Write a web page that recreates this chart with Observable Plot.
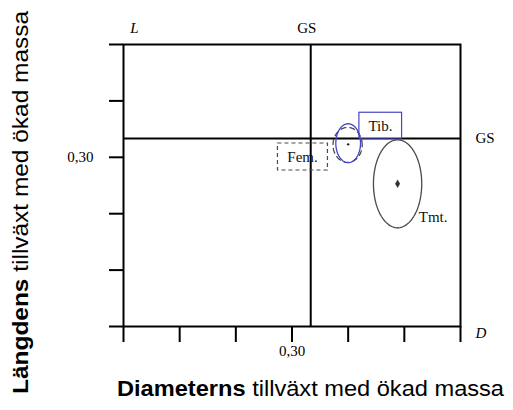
<!DOCTYPE html>
<html>
<head>
<meta charset="utf-8">
<script src="https://cdn.jsdelivr.net/npm/d3@7"></script>
<script src="https://cdn.jsdelivr.net/npm/@observablehq/plot@0.6"></script>
<style>
  body { margin: 0; background: #fff; }
</style>
</head>
<body>
<div id="chart"></div>
<script>
// Allometric exponents of limb bones: growth in diameter (x) and length (y) with body mass
const GS = 1 / 3; // geometric similarity
const xTicks = [0, 0.1, 0.2, 0.3, 0.4, 0.5, 0.6];
const yTicks = [0, 0.1, 0.2, 0.3, 0.4, 0.5];
const labeledTick = 0.3;
const labeledTickText = "0,30";

// Confidence ellipses per bone
const bones   = ["Tib.", "Fem.", "Tmt."];
const centerX = [0.400, 0.399, 0.488];
const centerY = [0.325, 0.322, 0.253];
const radiusX = [0.022, 0.026, 0.043];
const radiusY = [0.0345, 0.031, 0.078];

// Bone label positions
const labelX = [0.4575, 0.3187, 0.5257];
const labelY = [0.3555, 0.3005, 0.1933];

// Boxes around the Tib. and Fem. labels
const boxBones = ["Tib.", "Fem."];
const boxX1 = [0.420, 0.275];
const boxX2 = [0.496, 0.364];
const boxY1 = [GS, 0.2766];
const boxY2 = [0.379, 0.3245];

const xTitle = "Diameterns tillväxt med ökad massa";
const yTitle = "Längdens tillväxt med ökad massa";

const blue = "#4646c4";
const grey = "#4a4a4a";
const serif = "Liberation Serif, Times New Roman, serif";
const sans = "Liberation Sans, Arial, sans-serif";

function ellipse(i) {
  return d3.range(0, 360, 4).map(a => {
    const t = a * Math.PI / 180;
    return {x: centerX[i] + radiusX[i] * Math.cos(t), y: centerY[i] + radiusY[i] * Math.sin(t)};
  });
}

const boxes = boxBones.map((b, i) => ({bone: b, x1: boxX1[i], x2: boxX2[i], y1: boxY1[i], y2: boxY2[i]}));
const labels = bones.map((b, i) => ({bone: b, x: labelX[i], y: labelY[i]}));

const svg = Plot.plot({
  width: 513,
  height: 410,
  marginLeft: 123,
  marginRight: 53,
  marginTop: 44,
  marginBottom: 84,
  x: {domain: [0, 0.6], label: null},
  y: {domain: [0, 0.5], label: null},
  style: {background: "#fff", color: "#000"},
  marks: [
    Plot.axisX(xTicks, {
      tickSize: 16, tickPadding: 3, strokeWidth: 2, label: null,
      tickFormat: d => Math.abs(d - labeledTick) < 1e-9 ? labeledTickText : "",
      fontFamily: serif, fontSize: 15
    }),
    Plot.axisY(yTicks, {
      tickSize: 14, tickPadding: 16, strokeWidth: 2, label: null,
      tickFormat: d => Math.abs(d - labeledTick) < 1e-9 ? labeledTickText : "",
      fontFamily: serif, fontSize: 15
    }),
    Plot.frame({stroke: "#000", strokeWidth: 2}),
    Plot.ruleX([GS], {stroke: "#000", strokeWidth: 2}),
    Plot.ruleY([GS], {stroke: "#000", strokeWidth: 2}),

    // label boxes
    Plot.rect(boxes.filter(d => d.bone === "Tib."), {x1: "x1", x2: "x2", y1: "y1", y2: "y2", fill: "#fff", stroke: blue, strokeWidth: 1.2}),
    Plot.rect(boxes.filter(d => d.bone === "Fem."), {x1: "x1", x2: "x2", y1: "y1", y2: "y2", fill: "none", stroke: grey, strokeWidth: 1.2, strokeDasharray: "4,3"}),

    // ellipses
    Plot.line(ellipse(1), {x: "x", y: "y", curve: "linear-closed", stroke: grey, strokeWidth: 1.3, strokeDasharray: "5,4"}),
    Plot.line(ellipse(0), {x: "x", y: "y", curve: "linear-closed", stroke: blue, strokeWidth: 1.3}),
    Plot.line(ellipse(2), {x: "x", y: "y", curve: "linear-closed", stroke: grey, strokeWidth: 1.3}),

    // centre marks
    Plot.dot([0], {x: () => centerX[0], y: () => centerY[0] - 0.002, r: 1.2, fill: "#222", stroke: "none"}),
    Plot.dot([0], {x: () => centerX[2], y: () => centerY[2], symbol: "diamond", r: 2.6, fill: "#333", stroke: "none"}),

    // bone labels
    Plot.text(labels.filter(d => d.bone !== "Tmt."), {x: "x", y: "y", text: "bone", fontFamily: serif, fontSize: 15, fill: "#111"}),
    Plot.text(labels.filter(d => d.bone === "Tmt."), {x: "x", y: "y", text: "bone", textAnchor: "start", fontFamily: serif, fontSize: 15, fill: "#111"}),

    // axis annotations
    Plot.text([0], {x: d => d, frameAnchor: "top", lineAnchor: "middle", text: () => "L", dx: 11, dy: -16, fontStyle: "italic", fontFamily: serif, fontSize: 15}),
    Plot.text([GS], {x: d => d, frameAnchor: "top", lineAnchor: "middle", text: () => "GS", dx: -4, dy: -16, fontFamily: serif, fontSize: 15}),
    Plot.text([GS], {y: d => d, frameAnchor: "right", lineAnchor: "middle", text: () => "GS", textAnchor: "start", dx: 15, fontFamily: serif, fontSize: 15}),
    Plot.text([0], {y: d => d, frameAnchor: "right", lineAnchor: "middle", text: () => "D", textAnchor: "start", dx: 15, dy: 7, fontStyle: "italic", fontFamily: serif, fontSize: 15}),

    // axis titles
    Plot.text([xTitle], {frameAnchor: "bottom", lineAnchor: "middle", textAnchor: "middle", dx: 18.5, dy: 62.7, fontFamily: sans, fontSize: 22, fill: "#000"}),
    Plot.text([yTitle], {frameAnchor: "left", lineAnchor: "middle", textAnchor: "middle", rotate: -90, dx: -103, dy: 17, fontFamily: sans, fontSize: 22, fill: "#000"})
  ]
});

document.getElementById("chart").append(svg);

// First word of each axis title in bold, stretched to the title's full length
const titleLength = new Map([[xTitle, 387], [yTitle, 383]]);
d3.select(svg).selectAll("text").each(function() {
  const t = this.textContent;
  if (titleLength.has(t)) {
    const i = t.indexOf(" ");
    const sel = d3.select(this);
    sel.text(null)
      .attr("textLength", titleLength.get(t))
      .attr("lengthAdjust", "spacingAndGlyphs");
    sel.append("tspan").attr("font-weight", "bold").text(t.slice(0, i));
    sel.append("tspan").text(t.slice(i));
  }
});
</script>
</body>
</html>
